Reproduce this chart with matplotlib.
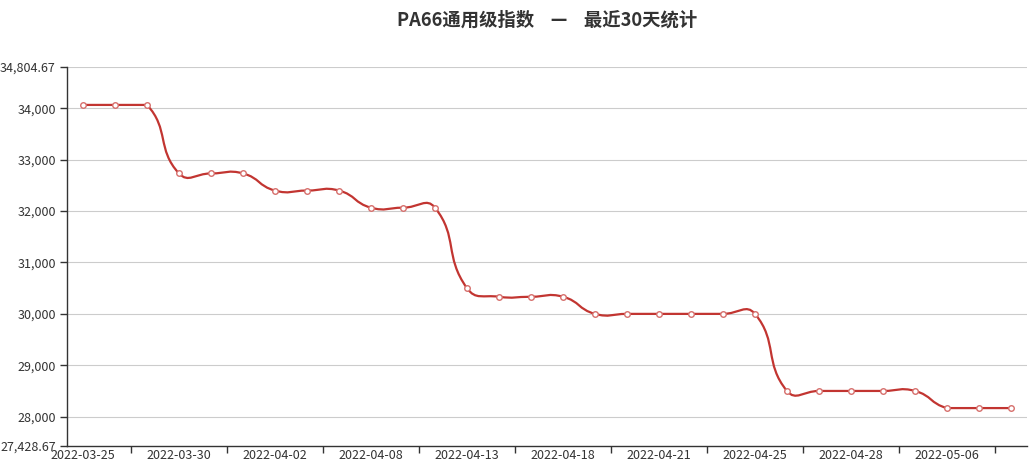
import matplotlib
matplotlib.use("Agg")
import matplotlib.pyplot as plt
from matplotlib.path import Path
from matplotlib.patches import PathPatch
import numpy as np

plt.rcParams['font.family'] = ['Noto Sans CJK SC', 'DejaVu Sans']

# data
dates = ['2022-03-25', '2022-03-28', '2022-03-29', '2022-03-30', '2022-03-31',
         '2022-04-01', '2022-04-02', '2022-04-06', '2022-04-07', '2022-04-08',
         '2022-04-11', '2022-04-12', '2022-04-13', '2022-04-14', '2022-04-15',
         '2022-04-18', '2022-04-19', '2022-04-20', '2022-04-21', '2022-04-22',
         '2022-04-24', '2022-04-25', '2022-04-26', '2022-04-27', '2022-04-28',
         '2022-04-29', '2022-05-05', '2022-05-06', '2022-05-07', '2022-05-09']
values = [34066.67, 34066.67, 34066.67, 32733.33, 32733.33, 32733.33,
          32400.00, 32400.00, 32400.00, 32066.67, 32066.67, 32066.67,
          30500.00, 30333.33, 30333.33, 30333.33, 30000.00, 30000.00,
          30000.00, 30000.00, 30000.00, 30000.00, 28500.00, 28500.00,
          28500.00, 28500.00, 28500.00, 28166.67, 28166.67, 28166.67]
y_min, y_max = 27428.67, 34804.67
y_ticks = [27428.67, 28000, 29000, 30000, 31000, 32000, 33000, 34000, 34804.67]
y_labels = ['27,428.67', '28,000', '29,000', '30,000', '31,000', '32,000',
            '33,000', '34,000', '34,804.67']
title = 'PA66通用级指数    —    最近30天统计'

line_color = '#c23531'
text_color = '#333333'

fig = plt.figure(figsize=(10.30, 4.71), dpi=100)
fig.subplots_adjust(left=67/1030, right=1027/1030, bottom=1-446/471, top=1-67/471)
ax = fig.add_subplot(111)

n = len(values)
xs = np.arange(n)
ax.set_xlim(-0.5, n - 0.5)
ax.set_ylim(y_min, y_max)

# smooth line like echarts (smooth=0.5), control points in pixel space,
# clamped to the bounding box of all points
pts = ax.transData.transform(np.column_stack([xs, values]))
lo = pts.min(axis=0)
hi = pts.max(axis=0)
smooth = 0.5
verts = [pts[0]]
codes = [Path.MOVETO]
cp0 = pts[0].copy()
for i in range(1, n):
    p = pts[i]
    prev = pts[i - 1]
    if i == n - 1:
        cp1 = p.copy()
        next_cp0 = p.copy()
    else:
        nxt = pts[i + 1]
        v = nxt - prev
        d0 = np.hypot(*(p - prev))
        d1 = np.hypot(*(nxt - p))
        r = d1 / (d0 + d1)
        cp1 = p - v * smooth * (1 - r)
        next_cp0 = p + v * smooth * r
    cp0 = np.clip(cp0, lo, hi)
    cp1 = np.clip(cp1, lo, hi)
    verts += [cp0, cp1, p]
    codes += [Path.CURVE4] * 3
    cp0 = next_cp0
verts = ax.transData.inverted().transform(np.array(verts))
ax.add_patch(PathPatch(Path(verts, codes), facecolor='none', edgecolor=line_color,
                       lw=1.6, zorder=3))

ax.plot(xs, values, linestyle='none', marker='o', markersize=4,
        markerfacecolor='white', markeredgecolor='#d66f6c', markeredgewidth=1,
        zorder=4)

# axes styling
for s in ['top', 'right']:
    ax.spines[s].set_visible(False)
for s in ['left', 'bottom']:
    ax.spines[s].set_color(text_color)
    ax.spines[s].set_linewidth(1)

ax.set_yticks(y_ticks)
ax.set_yticklabels(y_labels)
ax.tick_params(axis='y', length=5, width=1, color=text_color, labelsize=9,
               labelcolor=text_color, pad=3)
for yv in y_ticks[1:]:
    ax.axhline(yv, color='#cccccc', lw=0.8, zorder=1)

# tick marks at band boundaries, labels every third category
ax.set_xticks(np.arange(2, n + 1, 3) - 0.5)
ax.set_xticklabels([])
ax.tick_params(axis='x', which='major', length=5, width=1, color=text_color)
ax.set_xticks(xs[::3], minor=True)
ax.set_xticklabels(dates[::3], minor=True)
ax.tick_params(axis='x', which='minor', length=0, labelsize=9,
               labelcolor=text_color, pad=2)

fig.text((67 + 1027) / 2 / 1030, 1 - 20 / 471, title, ha='center', va='center',
         fontsize=13.2, fontweight='bold', color=text_color)

fig.savefig('out.png', dpi=100)
